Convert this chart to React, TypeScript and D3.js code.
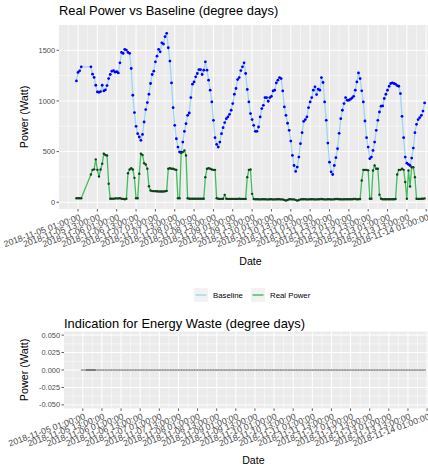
import React from 'react';
import * as d3 from 'd3';

// hourly readings, one row per day, starting 2018-11-05 00:00
const startTime = '2018-11-05 00:00:00';

const baselineDays: (number | null)[][] = [
  [1198, 1281, 1297, 1337, null, null, null, null, null, 1337, 1264, 1232, 1155, 1089, 1086, 1092, 1155, 1099, 1110, 1152, 1221, 1261, 1294, 1300],
  [1284, 1290, 1277, 1376, 1479, 1469, 1509, 1502, 1479, 1470, 1320, 1056, 885, 749, 677, 644, 611, 670, 792, 915, 984, 1066, 1172, 1261],
  [1294, 1386, 1442, 1509, 1485, 1574, 1561, 1634, 1667, 1525, 1393, 1178, 934, 759, 627, 545, 495, 495, 594, 700, 776, 858, 881, 1033],
  [1165, 1188, 1238, 1271, 1310, 1310, 1261, 1304, 1386, 1304, 1205, 1106, 990, 809, 637, 571, 545, 594, 677, 736, 786, 825, 842, 868],
  [908, 974, 1066, 1123, 1211, 1231, 1300, 1337, 1376, 1271, 1113, 990, 875, 816, 759, 700, 700, 743, 842, 925, 957, 1033, 1033, 997],
  [1033, 1046, 1099, 1106, 1178, 1205, 1231, 1221, 1099, 941, 858, 780, 710, 604, 462, 363, 304, 347, 446, 578, 687, 799, 816, 842],
  [934, 990, 1033, 1106, 1139, 1063, 1116, 1106, 1231, 1182, 990, 809, 584, 396, 300, 274, 363, 440, 528, 680, 825, 908, 974, 1033],
  [1007, 1007, 1017, 1030, 1046, 1106, 1188, 1277, 1221, 1100, 990, 802, 637, 545, 430, 446, 512, 594, 710, 809, 891, 948, 951, 1024],
  [1066, 1106, 1145, 1172, 1178, 1172, 1165, 1152, 1145, 1073, 848, 637, 446, 386, 373, 363, 436, 535, 687, 769, 816, 836, 858, 900],
  [980],
];

const realPowerDays: (number | null)[][] = [
  [40, 40, 40, 40, null, null, null, null, null, 274, 320, 325, 423, 320, 254, 323, 380, 479, 467, 462, 182, 35, 35, 35],
  [38, 38, 38, 40, 35, 33, 30, 35, 287, 323, 336, 323, 241, 40, 40, 281, 479, 467, 386, 373, 330, 158, 116, 110],
  [110, 108, 108, 106, 106, 106, 106, 108, 112, 330, 336, 330, 330, 323, 320, 40, 40, 485, 495, 512, 462, 40, 35, 35],
  [35, 35, 35, 35, 35, 35, 35, 35, 248, 330, 336, 330, 323, 320, 320, 40, 35, 33, 33, 35, 73, 35, 33, 33],
  [33, 33, 33, 33, 33, 35, 33, 33, 33, 33, 248, 320, 323, 83, 32, 30, 30, 30, 28, 30, 30, 30, 28, 28],
  [30, 30, 28, 28, 30, 30, 30, 28, 28, 22, 18, 22, 30, 30, 28, 28, 24, 16, 22, 28, 30, 30, 30, 28],
  [28, 30, 30, 30, 28, 28, 30, 30, 32, 30, 28, 28, 30, 30, 28, 28, 30, 32, 32, 30, 30, 28, 30, 30],
  [30, 30, 30, 30, 32, 32, 30, 30, 32, 215, 320, 320, 320, 315, 34, 34, 314, 363, 330, 330, 75, 34, 30, 30],
  [30, 30, 30, 30, 30, 30, 32, 274, 320, 320, 330, 320, 200, 34, 314, 155, 346, 346, 248, 34, 33, 33, 35, 35],
  [38],
];

const tickLabels = [
  '2018-11-05 01:00:00', '2018-11-05 13:00:00', '2018-11-06 01:00:00', '2018-11-06 13:00:00',
  '2018-11-07 01:00:00', '2018-11-07 13:00:00', '2018-11-08 01:00:00', '2018-11-08 13:00:00',
  '2018-11-09 01:00:00', '2018-11-09 13:00:00', '2018-11-10 01:00:00', '2018-11-10 13:00:00',
  '2018-11-11 01:00:00', '2018-11-11 13:00:00', '2018-11-12 01:00:00', '2018-11-12 13:00:00',
  '2018-11-13 01:00:00', '2018-11-13 13:00:00', '2018-11-14 01:00:00',
];

const powerTicks = [0, 500, 1000, 1500];
const powerMinor = [-250, 250, 750, 1250, 1750];
const wasteTicks = [-0.05, -0.025, 0, 0.025, 0.05];
const wasteTickLabels = ['-0.050', '-0.025', '0.000', '0.025', '0.050'];
const wasteMinor = [-0.0375, -0.0125, 0.0125, 0.0375];
const wasteRange = [-0.05, 0.05]; // all-zero series -> ggplot's default range

const seriesNames = ['Baseline', 'Real Power'];

const FONT = '"Liberation Sans", Arial, Helvetica, sans-serif';
const BASE_LINE = '#9fd4f5';
const BASE_PT = '#0000ff';
const REAL_LINE = '#41bd5d';
const REAL_PT = '#123f1b';

const parseTime = d3.utcParse('%Y-%m-%d %H:%M:%S');
const t0 = parseTime(startTime)!;
const HOUR = 3600 * 1000;

type Pt = { t: Date; v: number };

const toSeries = (days: (number | null)[][]): Pt[] =>
  days.flat()
    .map((v, i) => (v == null ? null : { t: new Date(t0.getTime() + i * HOUR), v }))
    .filter((d): d is Pt => d !== null);

const baseline = toSeries(baselineDays);
const realPower = toSeries(realPowerDays);
// energy waste = real power above baseline (never happens here)
const baseByTime = new Map(baseline.map(d => [d.t.getTime(), d.v]));
const waste: Pt[] = realPower
  .filter(d => baseByTime.has(d.t.getTime()))
  .map(d => ({ t: d.t, v: Math.max(0, d.v - (baseByTime.get(d.t.getTime()) as number)) }));

const tickTimes = tickLabels.map(s => parseTime(s)!);
const minorTimes = [tickTimes[0].getTime() - 6 * HOUR, ...tickTimes.map(t => t.getTime() + 6 * HOUR)].map(t => new Date(t));

// ggplot style 5% expansion
const expand = (lo: number, hi: number) => {
  const p = (hi - lo) * 0.05;
  return [lo - p, hi + p];
};

const timeExtent = d3.extent(baseline.concat(realPower), d => d.t.getTime()) as [number, number];
const timeDomain = expand(timeExtent[0], timeExtent[1]).map(t => new Date(t));
const powerExtent = d3.extent(baseline.concat(realPower), d => d.v) as [number, number];

type Box = { left: number; right: number; top: number; bottom: number };

const topBox: Box = { left: 59, right: 442, top: 25, bottom: 209 };
const botBox: Box = { left: 64, right: 442.7, top: 331.6, bottom: 408.4 };

const XTickLabels = ({ x, y0 }: { x: d3.ScaleTime<number, number>; y0: number }) => (
  <g fontFamily={FONT} fontSize={8.8} fill="#4d4d4d">
    {tickTimes.map((t, i) => (
      <text key={i} transform={`translate(${x(t) + 1},${y0}) rotate(-20)`} textAnchor="end" dy="0.72em">
        {tickLabels[i]}
      </text>
    ))}
  </g>
);

const PanelFrame = ({ box, x, y, yTicks, yTickLabels, yMinor, title, titleY }: {
  box: Box; x: d3.ScaleTime<number, number>; y: d3.ScaleLinear<number, number>;
  yTicks: number[]; yTickLabels: string[]; yMinor: number[]; title: string; titleY: number;
}) => {
  const [yLo, yHi] = y.domain();
  const inY = (v: number) => v >= yLo && v <= yHi;
  const [xLo, xHi] = x.domain();
  const inX = (t: Date) => t >= xLo && t <= xHi;
  return (
    <g>
      <text x={box.left} y={titleY} fontFamily={FONT} fontSize={12.9} fill="#000">{title}</text>
      <rect x={box.left} y={box.top} width={box.right - box.left} height={box.bottom - box.top} fill="#ebebeb" />
      {yMinor.filter(inY).map(v => (
        <line key={'ym' + v} x1={box.left} x2={box.right} y1={y(v)} y2={y(v)} stroke="#fff" strokeWidth={0.5} />
      ))}
      {minorTimes.filter(inX).map(t => (
        <line key={'xm' + t.getTime()} x1={x(t)} x2={x(t)} y1={box.top} y2={box.bottom} stroke="#fff" strokeWidth={0.5} />
      ))}
      {yTicks.map(v => (
        <line key={'y' + v} x1={box.left} x2={box.right} y1={y(v)} y2={y(v)} stroke="#fff" strokeWidth={1} />
      ))}
      {tickTimes.map(t => (
        <line key={'x' + t.getTime()} x1={x(t)} x2={x(t)} y1={box.top} y2={box.bottom} stroke="#fff" strokeWidth={1} />
      ))}
      {yTicks.map((v, i) => (
        <g key={'yt' + v}>
          <line x1={box.left - 2.5} x2={box.left} y1={y(v)} y2={y(v)} stroke="#333" strokeWidth={0.8} />
          <text x={box.left - 4} y={y(v)} dy="0.35em" textAnchor="end" fontFamily={FONT} fontSize={7.4} fill="#4d4d4d">
            {yTickLabels[i]}
          </text>
        </g>
      ))}
      {tickTimes.map(t => (
        <line key={'xt' + t.getTime()} x1={x(t)} x2={x(t)} y1={box.bottom} y2={box.bottom + 2.5} stroke="#333" strokeWidth={0.8} />
      ))}
      <XTickLabels x={x} y0={box.bottom + 4.5} />
      <text x={(box.left + box.right) / 2} y={box.bottom + 56} textAnchor="middle" fontFamily={FONT} fontSize={10.6}>Date</text>
      <text transform={`translate(28,${(box.top + box.bottom) / 2}) rotate(-90)`} textAnchor="middle" fontFamily={FONT} fontSize={10.8}>
        Power (Watt)
      </text>
    </g>
  );
};

const App = () => {
  const xTop = d3.scaleUtc().domain(timeDomain).range([topBox.left, topBox.right]);
  const yTop = d3.scaleLinear().domain(expand(powerExtent[0], powerExtent[1])).range([topBox.bottom, topBox.top]);
  const xBot = d3.scaleUtc().domain(timeDomain).range([botBox.left, botBox.right]);
  const yBot = d3.scaleLinear().domain(expand(wasteRange[0], wasteRange[1])).range([botBox.bottom, botBox.top]);

  const lineTop = d3.line<Pt>().x(d => xTop(d.t)).y(d => yTop(d.v));
  const lineBot = d3.line<Pt>().x(d => xBot(d.t)).y(d => yBot(d.v));

  // gaps in the waste series (missing hours)
  const gaps = d3.pairs(waste).filter(([a, b]) => b.t.getTime() - a.t.getTime() > HOUR);

  const legendCx = (topBox.left + topBox.right) / 2;
  const legendY = 295;
  const legendItems = [
    { name: seriesNames[0], color: BASE_LINE, kx: legendCx - 50.5 },
    { name: seriesNames[1], color: REAL_LINE, kx: legendCx + 6.5 },
  ];

  return (
    <svg width={428} height={467} style={{ position: 'absolute', left: 0, top: 0, background: '#fff' }}>
      <defs>
        <clipPath id="clipTop"><rect x={topBox.left} y={topBox.top} width={topBox.right - topBox.left} height={topBox.bottom - topBox.top} /></clipPath>
        <clipPath id="clipBot"><rect x={botBox.left} y={botBox.top} width={botBox.right - botBox.left} height={botBox.bottom - botBox.top} /></clipPath>
      </defs>

      <PanelFrame box={topBox} x={xTop} y={yTop} yTicks={powerTicks} yTickLabels={powerTicks.map(String)}
        yMinor={powerMinor} title="Real Power vs Baseline (degree days)" titleY={15.2} />
      <g clipPath="url(#clipTop)">
        <path d={lineTop(baseline) || ''} fill="none" stroke={BASE_LINE} strokeWidth={1.3} />
        {baseline.map((d, i) => <circle key={'b' + i} cx={xTop(d.t)} cy={yTop(d.v)} r={1.4} fill={BASE_PT} />)}
        <path d={lineTop(realPower) || ''} fill="none" stroke={REAL_LINE} strokeWidth={1.3} />
        {realPower.map((d, i) => <circle key={'r' + i} cx={xTop(d.t)} cy={yTop(d.v)} r={1.2} fill={REAL_PT} />)}
      </g>

      <g fontFamily={FONT} fontSize={7.8} fill="#000">
        {legendItems.map(it => (
          <g key={it.name}>
            <rect x={it.kx - 6} y={legendY - 7} width={14} height={14} fill="#f2f2f2" />
            <line x1={it.kx - 4.5} x2={it.kx + 6.5} y1={legendY} y2={legendY} stroke={it.color} strokeWidth={1.4} />
            <text x={it.kx + 13} y={legendY} dy="0.35em">{it.name}</text>
          </g>
        ))}
      </g>

      <PanelFrame box={botBox} x={xBot} y={yBot} yTicks={wasteTicks} yTickLabels={wasteTickLabels}
        yMinor={wasteMinor} title="Indication for Energy Waste (degree days)" titleY={327.8} />
      <g clipPath="url(#clipBot)">
        <path d={lineBot(waste) || ''} fill="none" stroke="#c4c4c4" strokeWidth={2.2} />
        {gaps.map(([a, b], i) => (
          <line key={'g' + i} x1={xBot(a.t)} x2={xBot(b.t)} y1={yBot(a.v)} y2={yBot(b.v)} stroke="#7a7a7a" strokeWidth={2} />
        ))}
        {waste.map((d, i) => <circle key={'w' + i} cx={xBot(d.t)} cy={yBot(d.v)} r={0.55} fill="#666" />)}
      </g>
    </svg>
  );
};

export default App;
